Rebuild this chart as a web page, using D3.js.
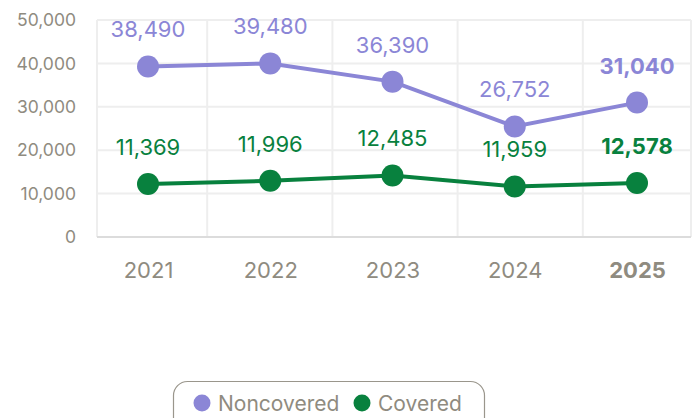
<!DOCTYPE html>
<html>
<head>
<meta charset="utf-8">
<script src="https://cdn.jsdelivr.net/npm/d3@7"></script>
<style>
  body { margin: 0; background: #fff; }
  svg { display: block; font-family: Inter, "Noto Sans", sans-serif; }
</style>
</head>
<body>
<svg width="697" height="418"></svg>
<script>

var years = ["2021", "2022", "2023", "2024", "2025"];
var yTicks = [0, 10000, 20000, 30000, 40000, 50000];

// where the dots sit
var noncovered = [39300, 40000, 35800, 25450, 30970];
var covered = [12200, 12950, 14170, 11640, 12430];

// the numbers printed above the dots
var noncoveredLabels = ["38,490", "39,480", "36,390", "26,752", "31,040"];
var coveredLabels = ["11,369", "11,996", "12,485", "11,959", "12,578"];

var seriesNames = ["Noncovered", "Covered"];
var seriesColors = ["#8b86d6", "#08813e"];

var svg = d3.select("svg"),
    plotLeft = 97, plotRight = 691, plotTop = 20, plotBottom = 237;

var x = d3.scalePoint().domain(years).range([148, 637]);
var xGrid = d3.scaleBand().domain(years).range([82, 708]);
var y = d3.scaleLinear().domain([0, 50000]).range([plotBottom, plotTop]);

var grid = svg.append("g");

// vertical grid
var vx = [plotLeft, plotRight];
years.forEach(function(d, i){
    if (i > 0) vx.push(xGrid(d));
});
grid.selectAll(".vg")
    .data(vx)
  .enter().append("line")
    .attr("x1", function(d){ return d; })
    .attr("x2", function(d){ return d; })
    .attr("y1", plotTop)
    .attr("y2", plotBottom)
    .attr("stroke", "#eeeeee")
    .attr("stroke-width", 2);

// horizontal grid
grid.selectAll(".hg")
    .data(yTicks)
  .enter().append("line")
    .attr("x1", plotLeft)
    .attr("x2", plotRight)
    .attr("y1", function(d){ return y(d); })
    .attr("y2", function(d){ return y(d); })
    .attr("stroke", function(d){ return d == 0 ? "#dcdcdc" : "#eeeeee"; })
    .attr("stroke-width", 2);

// y axis labels
var yAxis = svg.append("g")
    .attr("transform", "translate(76,0)")
    .call(d3.axisLeft(y).tickValues(yTicks).tickSize(0).tickPadding(0)
        .tickFormat(d3.format(",")));
yAxis.select(".domain").remove();
yAxis.selectAll("text")
    .attr("font-family", "Inter")
    .attr("font-size", 17.5)
    .attr("fill", "#8f8b80");

// x axis labels
var xAxis = svg.append("g")
    .attr("transform", "translate(0,262)")
    .call(d3.axisBottom(x).tickSize(0).tickPadding(0));
xAxis.select(".domain").remove();
xAxis.selectAll("text")
    .attr("font-family", "Inter")
    .attr("font-size", 22)
    .attr("fill", "#8f8b80")
    .attr("font-weight", function(d){ return d == "2025" ? "bold" : "normal"; });

var series = [
    {name: seriesNames[0], color: seriesColors[0], values: noncovered, labels: noncoveredLabels},
    {name: seriesNames[1], color: seriesColors[1], values: covered, labels: coveredLabels}
];

var line = d3.line()
    .x(function(d, i){ return x(years[i]); })
    .y(function(d){ return y(d); });

series.forEach(function(s){
    var g = svg.append("g");

    g.append("path")
        .attr("d", line(s.values))
        .attr("fill", "none")
        .attr("stroke", s.color)
        .attr("stroke-width", 4);

    g.selectAll("circle")
        .data(s.values)
      .enter().append("circle")
        .attr("cx", function(d, i){ return x(years[i]); })
        .attr("cy", function(d){ return y(d); })
        .attr("r", 11)
        .attr("fill", s.color);

    g.selectAll("text")
        .data(s.labels)
      .enter().append("text")
        .attr("x", function(d, i){ return x(years[i]); })
        .attr("y", function(d, i){ return y(s.values[i]) - 37; })
        .attr("dy", "0.36em")
        .attr("text-anchor", "middle")
        .attr("font-size", 22)
        .attr("font-weight", function(d, i){ return i == years.length - 1 ? "bold" : "normal"; })
        .attr("fill", s.color)
        .text(function(d){ return d; });
});

// legend
var legend = svg.append("g");
legend.append("rect")
    .attr("x", 173.5)
    .attr("y", 381.5)
    .attr("width", 311)
    .attr("height", 60)
    .attr("rx", 14)
    .attr("fill", "#fff")
    .attr("stroke", "#9a968c")
    .attr("stroke-width", 1.2);

var lx = [202, 362];
var item = legend.selectAll(".item")
    .data(series)
  .enter().append("g")
    .attr("transform", function(d, i){ return "translate(" + lx[i] + ",403)"; });
item.append("circle")
    .attr("r", 8.5)
    .attr("fill", function(d){ return d.color; });
item.append("text")
    .attr("x", 16)
    .attr("dy", "0.36em")
    .attr("font-size", 21)
    .attr("fill", "#8f8b80")
    .text(function(d){ return d.name; });

</script>
</body>
</html>
